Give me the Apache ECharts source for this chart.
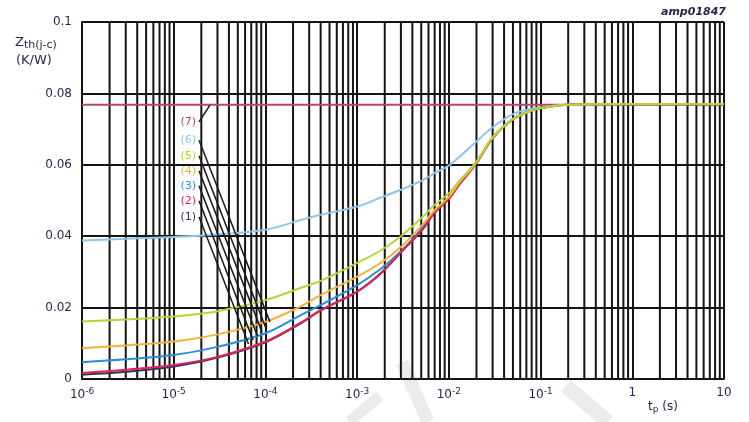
<!DOCTYPE html>
<html>
<head>
<meta charset="utf-8">
<script src="https://cdn.jsdelivr.net/npm/echarts@6/dist/echarts.min.js"></script>
<style>
  html, body { margin: 0; background: #fff; }
  #chart { width: 749px; height: 422px; }
</style>
</head>
<body>
<div id="chart"></div>
<script>
// pulse duration tp (s), shared by all curves
const tp = [1e-6, 3e-6, 1e-5, 3e-5, 1e-4, 2.4e-4, 4e-4, 1e-3, 1.8e-3, 3e-3, 5.2e-3, 6.8e-3,
            1e-2, 1.3e-2, 2e-2, 3e-2, 5e-2, 8e-2, 1e-1, 2e-1, 1, 10];

// Zth(j-c) in K/W, one array per curve
const z1 = [0.0012, 0.0020, 0.0035, 0.0060, 0.0103, 0.0155, 0.0192, 0.0245, 0.0295, 0.0355, 0.0420, 0.0462,
            0.0505, 0.0545, 0.0605, 0.0675, 0.0728, 0.0752, 0.0759, 0.0768, 0.0770, 0.0770];
const z2 = [0.0017, 0.0026, 0.0039, 0.0062, 0.0105, 0.0157, 0.0193, 0.0245, 0.0296, 0.0355, 0.0421, 0.0463,
            0.0505, 0.0545, 0.0605, 0.0675, 0.0728, 0.0752, 0.0759, 0.0768, 0.0770, 0.0770];
const z3 = [0.0047, 0.0055, 0.0067, 0.0090, 0.0128, 0.0178, 0.0207, 0.0263, 0.0308, 0.0358, 0.0425, 0.0465,
            0.0507, 0.0547, 0.0605, 0.0675, 0.0728, 0.0752, 0.0759, 0.0768, 0.0770, 0.0770];
const z4 = [0.0086, 0.0094, 0.0105, 0.0125, 0.0160, 0.0203, 0.0235, 0.0287, 0.0325, 0.0370, 0.0433, 0.0470,
            0.0510, 0.0550, 0.0607, 0.0676, 0.0728, 0.0752, 0.0759, 0.0768, 0.0770, 0.0770];
const z5 = [0.0161, 0.0167, 0.0175, 0.0190, 0.0221, 0.0255, 0.0275, 0.0325, 0.0360, 0.0400, 0.0455, 0.0485,
            0.0520, 0.0555, 0.0610, 0.0678, 0.0729, 0.0752, 0.0759, 0.0768, 0.0770, 0.0770];
const z6 = [0.0388, 0.0393, 0.0398, 0.0405, 0.0418, 0.0445, 0.0460, 0.0483, 0.0508, 0.0530, 0.0557, 0.0575,
            0.0598, 0.0622, 0.0665, 0.0705, 0.0742, 0.0757, 0.0761, 0.0768, 0.0770, 0.0770];
const z7 = [0.0768, 0.0768, 0.0768, 0.0768, 0.0768, 0.0768, 0.0768, 0.0768, 0.0768, 0.0768, 0.0768, 0.0768,
            0.0768, 0.0768, 0.0768, 0.0768, 0.0768, 0.0768, 0.0768, 0.0768, 0.0768, 0.0768];

const curveNames = ['(1)', '(2)', '(3)', '(4)', '(5)', '(6)', '(7)'];
const curveColors = ['#2e3550', '#e3245c', '#2b8fd6', '#f6b13c', '#b6d336', '#8fc4ec', '#b8466f'];

// leader lines from each label to its curve: [tp start, Z start, tp end, Z end]
const leaders = [
  [1.89e-5, 0.0454, 6.54e-5, 0.0098],
  [1.89e-5, 0.0499, 7.33e-5, 0.0109],
  [1.89e-5, 0.0541, 8.2e-5, 0.0120],
  [1.89e-5, 0.0583, 9.18e-5, 0.0132],
  [1.89e-5, 0.0625, 1.01e-4, 0.0143],
  [1.89e-5, 0.0669, 1.12e-4, 0.0160],
  [1.89e-5, 0.0720, 2.49e-5, 0.0768]
];

const yTicks = [0, 0.02, 0.04, 0.06, 0.08, 0.1];
const decades = [-6, -5, -4, -3, -2, -1, 0];
const minorSteps = [2, 3, 4, 5, 6, 7, 8, 9];

const curves = [z1, z2, z3, z4, z5, z6, z7];
const FONT = 'DejaVu Sans';
const TXT = '#1f2448';
const GRID = '#141414';

const series = [];

// minor vertical grid lines (2..9 in each decade), kept under the curves
decades.forEach(d => minorSteps.forEach(k => {
  const x = k * Math.pow(10, d);
  series.push({
    type: 'line', symbol: 'none', silent: true, z: 1,
    lineStyle: { color: GRID, width: 2 },
    data: [[x, 0], [x, 0.1]]
  });
}));

// draw order: 7, 6, 1, 3, 2, 4, 5 ; curves on their own layer above the grid
[6, 5, 0, 2, 1, 3, 4].forEach((i, n) => {
  series.push({
    name: curveNames[i],
    type: 'line',
    smooth: 0.35,
    symbol: 'none',
    zlevel: 1,
    data: tp.map((t, j) => [t, curves[i][j]]),
    lineStyle: { color: curveColors[i], width: 2 },
    z: 3 + n
  });
});

leaders.forEach((l, i) => {
  series.push({
    type: 'line',
    symbol: 'circle',
    symbolSize: 0.01,
    showSymbol: true,
    silent: true,
    zlevel: 1,
    z: 12,
    itemStyle: { color: '#1a1a1a' },
    lineStyle: { color: '#1a1a1a', width: 1.5 },
    data: [
      { value: [l[0], l[1]],
        label: { show: true, position: 'left', distance: 3, formatter: curveNames[i],
                 color: curveColors[i], fontFamily: FONT, fontSize: 11 } },
      [l[2], l[3]]
    ]
  });
});

const chart = echarts.init(document.getElementById('chart'));
chart.setOption({
  animation: false,
  backgroundColor: '#fff',
  grid: { left: 82, right: 25, top: 22, bottom: 43 },
  xAxis: {
    type: 'log', logBase: 10, min: 1e-6, max: 10, splitNumber: 7,
    axisLine: { lineStyle: { color: GRID, width: 2 } },
    axisTick: { show: false },
    splitLine: { show: true, lineStyle: { color: GRID, width: 2 } },
    axisLabel: {
      margin: 8, color: TXT, fontFamily: FONT, fontSize: 12,
      formatter: v => {
        const e = Math.round(Math.log10(v));
        if (e === 0) return '1';
        if (e === 1) return '10';
        return '{b|10}{s|' + e + '}';
      },
      rich: {
        b: { fontFamily: FONT, fontSize: 12, color: TXT },
        s: { fontFamily: FONT, fontSize: 9, color: TXT, padding: [0, 0, 7, 0] }
      }
    }
  },
  yAxis: {
    type: 'value', min: 0, max: 0.1, interval: 0.02,
    axisLine: { show: true, lineStyle: { color: GRID, width: 2 } },
    axisTick: { show: false },
    splitLine: { show: true, lineStyle: { color: GRID, width: 2 } },
    axisLabel: {
      margin: 10, color: TXT, fontFamily: FONT, fontSize: 12,
      formatter: v => String(yTicks.find(t => Math.abs(t - v) < 1e-9) ?? v)
    }
  },
  graphic: [
    // faint watermark strokes
    { type: 'line', z: -10, shape: { x1: 349, y1: 422, x2: 380, y2: 396 }, style: { stroke: '#ebebeb', lineWidth: 11 } },
    { type: 'line', z: -10, shape: { x1: 402, y1: 362, x2: 428, y2: 422 }, style: { stroke: '#ebebeb', lineWidth: 13 } },
    { type: 'line', z: -10, shape: { x1: 566, y1: 386, x2: 608, y2: 422 }, style: { stroke: '#ebebeb', lineWidth: 15 } },
    {
      type: 'text', left: 15, top: 36,
      style: {
        text: '{z|Z}{s|th(j-c)}\n{u|(K/W)}',
        rich: {
          z: { fontFamily: FONT, fontSize: 13, fill: TXT },
          s: { fontFamily: FONT, fontSize: 11, fill: TXT, padding: [6, 0, 0, 0] },
          u: { fontFamily: FONT, fontSize: 13, fill: TXT, padding: [3, 0, 0, 1] }
        }
      }
    },
    {
      type: 'text', left: 648, top: 401,
      style: {
        text: '{t|t}{s|p}{t| (s)}',
        rich: {
          t: { fontFamily: FONT, fontSize: 12, fill: TXT },
          s: { fontFamily: FONT, fontSize: 9, fill: TXT, padding: [6, 0, 0, 0] }
        }
      }
    },
    {
      type: 'text', right: 23, top: 7,
      style: { text: 'amp01847', font: 'italic bold 11px "DejaVu Sans"', fill: TXT }
    }
  ],
  series: series
});
</script>
</body>
</html>
